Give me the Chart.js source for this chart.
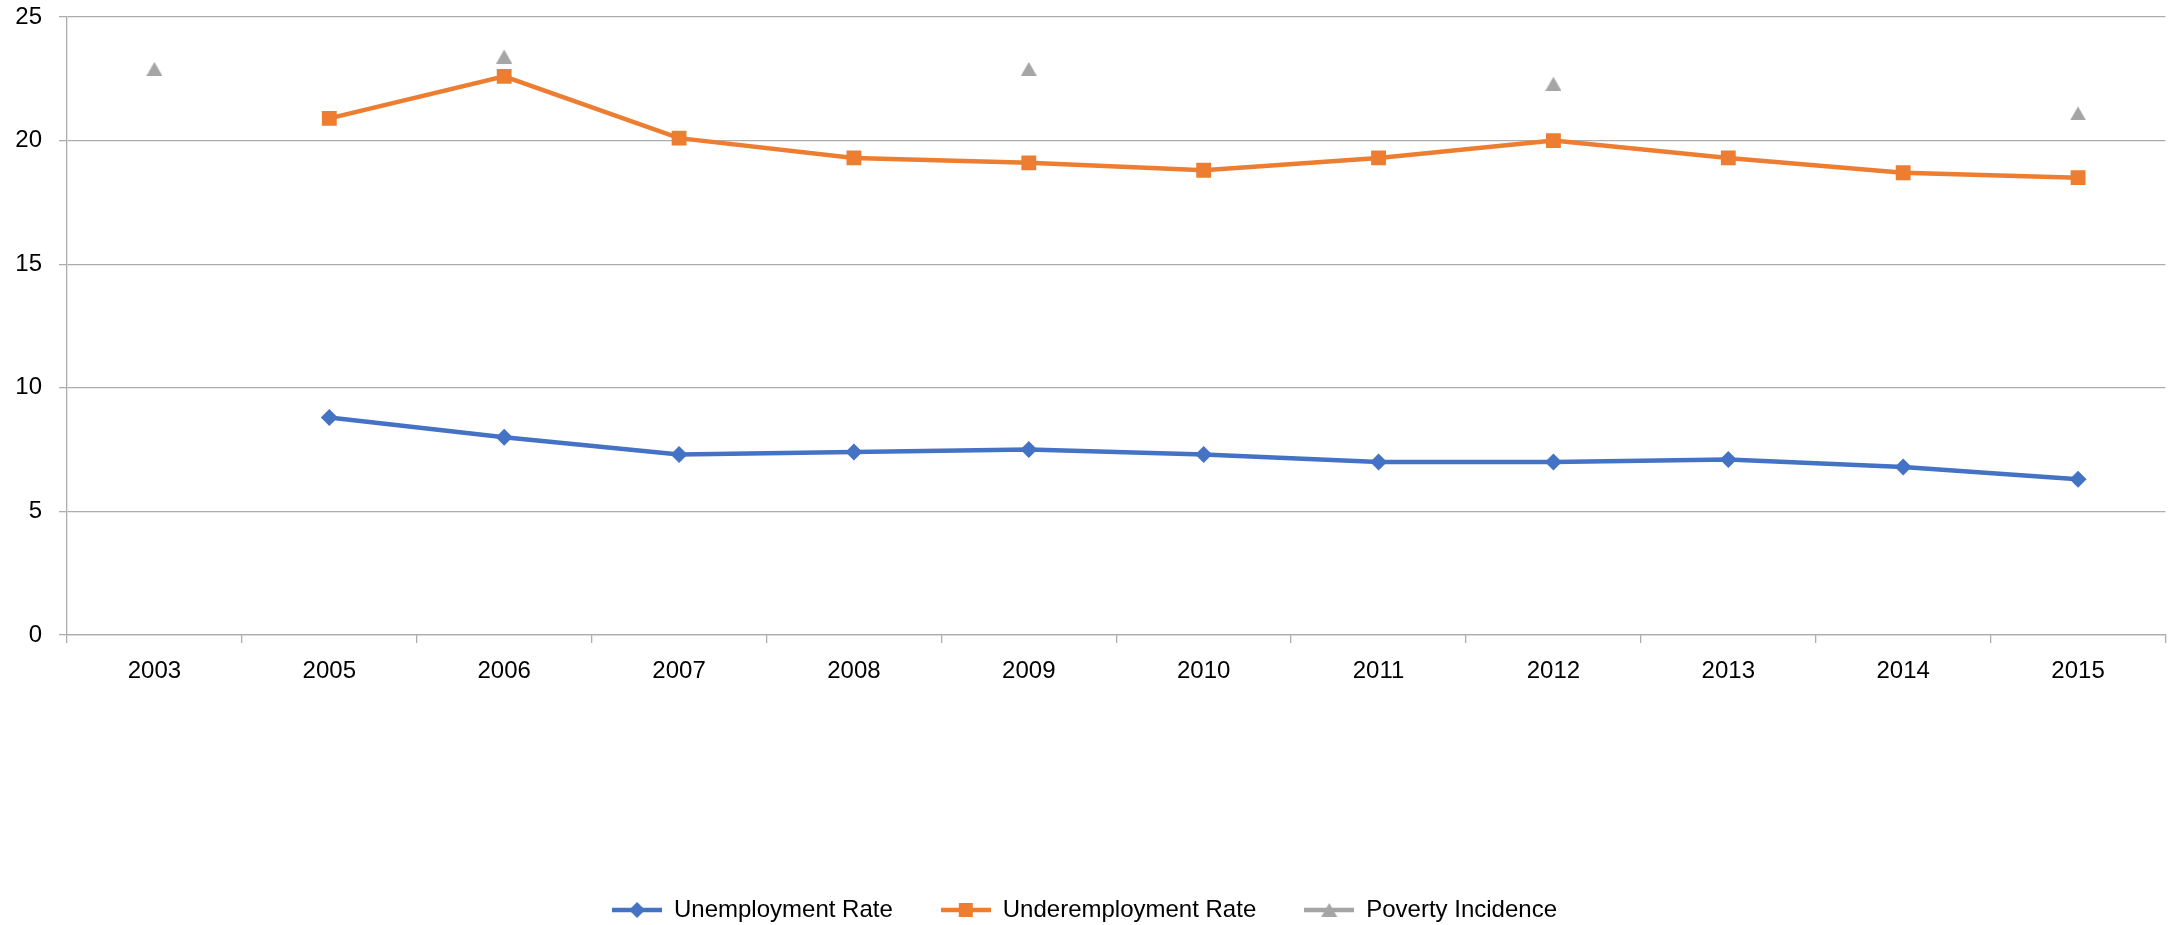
<!DOCTYPE html>
<html>
<head>
<meta charset="utf-8">
<style>
  html, body { margin: 0; padding: 0; background: #fff; }
  #wrap { width: 2176px; height: 925px; }
</style>
<script src="https://cdn.jsdelivr.net/npm/chart.js"></script>
</head>
<body>
<div id="wrap"><canvas id="myChart" width="2176" height="925"></canvas></div>
<script>
const years = ['2003', '2005', '2006', '2007', '2008', '2009', '2010', '2011', '2012', '2013', '2014', '2015'];
const unemployment = [null, 8.8, 8.0, 7.3, 7.4, 7.5, 7.3, 7.0, 7.0, 7.1, 6.8, 6.3];
const underemployment = [null, 20.9, 22.6, 20.1, 19.3, 19.1, 18.8, 19.3, 20.0, 19.3, 18.7, 18.5];
const poverty = [22.9, null, 23.4, null, null, 22.9, null, null, 22.3, null, null, 21.1];
const yTicks = [0, 5, 10, 15, 20, 25];

const BLUE = '#4472C4';
const ORANGE = '#ED7D31';
const GREY = '#A5A5A5';
const GRID = '#ADADAD';
const FONT = { family: "'Liberation Sans', Arial, sans-serif", size: 24 };

// legend sample: short line with the marker in the middle
function legendIcon(color, style) {
  const c = document.createElement('canvas');
  c.width = 50; c.height = 20;
  const g = c.getContext('2d');
  g.strokeStyle = color;
  g.lineWidth = 4.5;
  g.beginPath(); g.moveTo(0, 10); g.lineTo(50, 10); g.stroke();
  g.fillStyle = color;
  g.beginPath();
  if (style === 'diamond') {
    g.moveTo(25, 2); g.lineTo(33, 10); g.lineTo(25, 18); g.lineTo(17, 10);
  } else if (style === 'square') {
    g.rect(18, 3, 14, 14);
  } else {
    g.moveTo(25, 3); g.lineTo(33, 17); g.lineTo(17, 17);
  }
  g.closePath(); g.fill();
  return c;
}
const icons = [legendIcon(BLUE, 'diamond'), legendIcon(ORANGE, 'square'), legendIcon(GREY, 'triangle')];

// excel-like triangle marker, centred on its box
const tri = document.createElement('canvas');
tri.width = 16; tri.height = 14;
(function () {
  const g = tri.getContext('2d');
  g.fillStyle = GREY;
  g.beginPath(); g.moveTo(8, 0); g.lineTo(16, 14); g.lineTo(0, 14); g.closePath(); g.fill();
})();

const data = {
  labels: years,
  datasets: [
    {
      label: 'Unemployment Rate',
      data: unemployment,
      borderColor: BLUE,
      backgroundColor: BLUE,
      borderWidth: 4.5,
      pointStyle: 'rectRot',
      pointRadius: 8.5,
      pointHoverRadius: 8.5,
      pointBorderWidth: 0,
      tension: 0
    },
    {
      label: 'Underemployment Rate',
      data: underemployment,
      borderColor: ORANGE,
      backgroundColor: ORANGE,
      borderWidth: 4.5,
      pointStyle: 'rect',
      pointRadius: 10.5,
      pointHoverRadius: 10.5,
      pointBorderWidth: 0,
      tension: 0
    },
    {
      label: 'Poverty Incidence',
      data: poverty,
      borderColor: GREY,
      backgroundColor: GREY,
      showLine: false,
      pointStyle: tri,
      pointRadius: 9,
      pointHoverRadius: 9,
      pointBorderWidth: 0
    }
  ]
};

const config = {
  type: 'line',
  data,
  options: {
    responsive: false,
    animation: false,
    layout: { padding: { left: 0, top: 17, right: 7, bottom: -7 } },
    plugins: {
      tooltip: { enabled: false },
      legend: {
        position: 'bottom',
        labels: {
          color: '#000',
          font: FONT,
          usePointStyle: true,
          pointStyleWidth: 50,
          padding: 48,
          generateLabels(chart) {
            const items = Chart.defaults.plugins.legend.labels.generateLabels(chart);
            items.forEach((it, i) => { it.pointStyle = icons[i]; });
            return items;
          }
        }
      }
    },
    scales: {
      x: {
        offset: true,
        grid: { display: true, drawOnChartArea: false, drawTicks: true, tickLength: 8, color: GRID, lineWidth: 1.3, offset: true },
        border: { color: GRID, width: 1.3 },
        ticks: { color: '#000', font: FONT, padding: 14, maxRotation: 0 },
        afterFit(scale) { scale.height = 215; }
      },
      y: {
        min: 0,
        max: 25,
        afterBuildTicks(scale) { scale.ticks = yTicks.map(v => ({ value: v })); },
        grid: { color: GRID, lineWidth: 1.3, tickLength: 8 },
        border: { color: GRID, width: 1.3 },
        ticks: { color: '#000', font: FONT, padding: 17 },
        afterFit(scale) {
          scale.width = 67;
          scale.paddingTop = 0;
          scale.paddingBottom = 0;
        }
      }
    }
  }
};

var myChart = new Chart(document.getElementById('myChart'), config);
</script>
</body>
</html>
